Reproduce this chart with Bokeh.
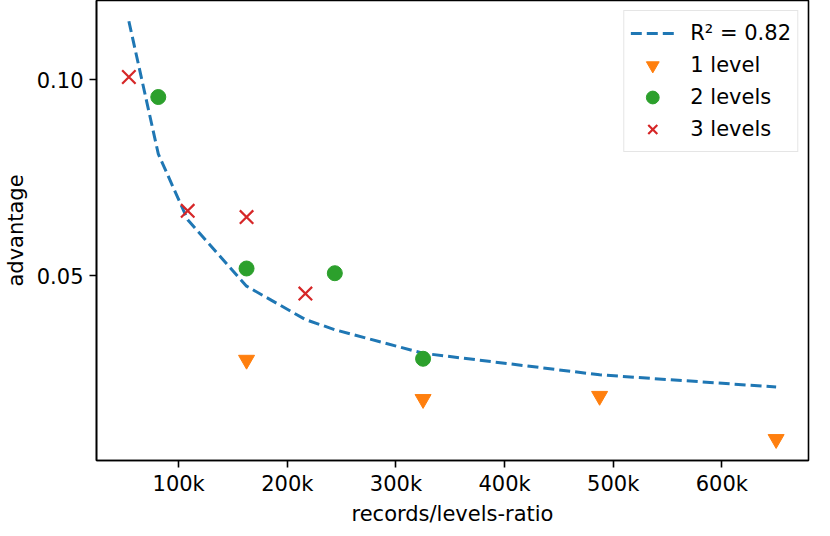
from bokeh.plotting import figure
from bokeh.models import Range1d, FixedTicker, NumeralTickFormatter, PrintfTickFormatter
from bokeh.embed import file_html
from bokeh.resources import INLINE

# ---- data ----
fit_x = [54170, 81250, 108330, 162500, 216670, 243750, 325000, 487500, 650000]
fit_y = [0.1149, 0.0811, 0.0643, 0.0474, 0.0389, 0.0363, 0.0303, 0.0248, 0.0217]

lvl1_x = [162500, 325000, 487500, 650000]
lvl1_y = [0.0286, 0.0186, 0.0194, 0.0084]

lvl2_x = [81250, 162500, 243750, 325000]
lvl2_y = [0.0956, 0.0519, 0.0507, 0.0289]

lvl3_x = [54170, 108330, 162500, 216670]
lvl3_y = [0.1007, 0.0666, 0.0650, 0.0455]

x_ticks = [100000, 200000, 300000, 400000, 500000, 600000]
y_ticks = [0.05, 0.10]

FONT = "DejaVu Sans"
FS = "21px"

p = figure(width=814, height=528, output_backend="svg", toolbar_location=None,
           x_range=Range1d(24370, 679800), y_range=Range1d(0.00297, 0.1202),
           min_border_left=0, min_border_right=6, min_border_top=0, min_border_bottom=0)

p.line(fit_x, fit_y, line_color="#1f77b4", line_width=3, line_dash="11 5",
       legend_label="R² = 0.82")
p.scatter(lvl1_x, lvl1_y, marker="inverted_triangle", size=16, fill_color="#ff7f0e",
          line_color="#ff7f0e", legend_label="1 level")
p.scatter(lvl2_x, lvl2_y, marker="circle", size=15, fill_color="#2ca02c",
          line_color="#2ca02c", legend_label="2 levels")
p.scatter(lvl3_x, lvl3_y, marker="x", size=19, line_color="#d62728", line_width=2.2,
          legend_label="3 levels")

p.xgrid.visible = False
p.ygrid.visible = False
p.outline_line_color = "black"
p.outline_line_width = 1.6

p.xaxis.ticker = FixedTicker(ticks=x_ticks)
p.xaxis.formatter = NumeralTickFormatter(format="0a")
p.yaxis.ticker = FixedTicker(ticks=y_ticks)
p.yaxis.formatter = PrintfTickFormatter(format="%.2f")
p.xaxis.axis_label = "records/levels-ratio"
p.yaxis.axis_label = "advantage"

for ax in (p.xaxis, p.yaxis):
    ax.axis_line_color = "black"
    ax.axis_line_width = 1.6
    ax.major_tick_line_color = "black"
    ax.major_tick_line_width = 1.6
    ax.major_tick_in = 0
    ax.major_tick_out = 7
    ax.minor_tick_line_color = None
    ax.major_label_text_font = FONT
    ax.major_label_text_font_size = FS
    ax.major_label_text_color = "black"
    ax.axis_label_text_font = FONT
    ax.axis_label_text_font_size = FS
    ax.axis_label_text_font_style = "normal"
    ax.axis_label_text_color = "black"
p.xaxis.major_label_standoff = 4
p.xaxis.axis_label_standoff = 3
p.yaxis.major_label_standoff = 6
p.yaxis.axis_label_standoff = 6

lg = p.legend[0]
lg.location = "top_right"
lg.margin = 10
lg.padding = 6
lg.spacing = 0
lg.glyph_width = 44
lg.glyph_height = 32
lg.label_standoff = 16
lg.label_text_font = FONT
lg.label_text_font_size = FS
lg.label_text_color = "black"
lg.border_line_color = "#cccccc"
lg.border_line_width = 1.5
lg.background_fill_alpha = 0.8

open("out.html", "w").write(file_html(p, INLINE))
